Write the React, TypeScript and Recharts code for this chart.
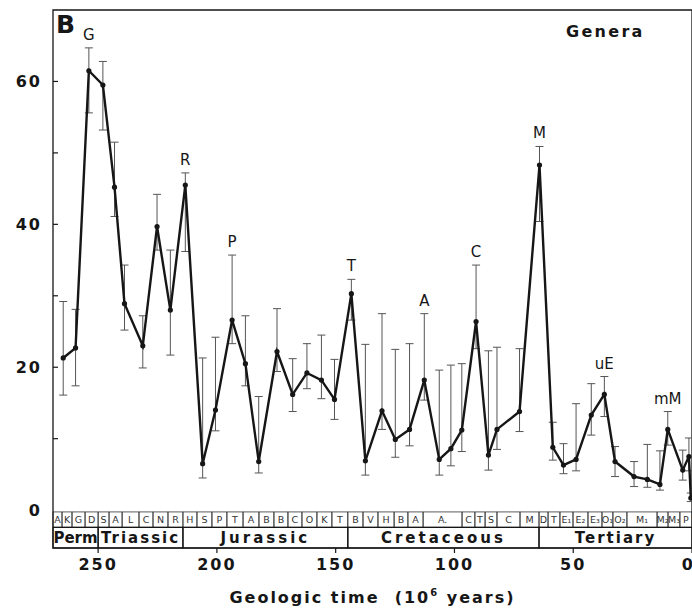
import React from "react"
import {
  ComposedChart,
  Line,
  XAxis,
  YAxis,
  ErrorBar,
  ReferenceArea,
  LabelList
} from "recharts"

// stage midpoints (10^6 years) and genus extinction percentages
const ages = [264.7, 259.5, 253.9, 248.0, 243.1, 238.9, 231.2, 225.2, 219.6, 213.3, 206.0, 200.6, 193.6, 188.0, 182.4, 174.7, 168.1, 162.1, 156.0, 150.5, 143.4, 137.5, 130.5, 124.9, 118.9, 112.7, 106.4, 101.5, 96.9, 90.9, 85.7, 82.1, 72.6, 64.2, 58.6, 54.1, 48.8, 42.4, 36.9, 32.4, 24.4, 18.8, 13.5, 10.2, 3.9, 1.3, 0.5]
const genera = [21.3, 22.7, 61.5, 59.5, 45.2, 28.9, 23.0, 39.7, 28.0, 45.5, 6.5, 14.0, 26.6, 20.5, 6.8, 22.2, 16.2, 19.2, 18.2, 15.5, 30.3, 6.9, 13.9, 9.9, 11.3, 18.2, 7.1, 8.6, 11.2, 26.4, 7.7, 11.3, 13.8, 48.3, 8.8, 6.3, 7.1, 13.3, 16.2, 6.8, 4.7, 4.3, 3.6, 11.3, 5.6, 7.5, 1.7]
const lower = [16.1, 17.4, 55.6, 53.2, 41.1, 25.2, 19.9, 36.4, 21.7, 36.2, 4.5, 11.1, 23.3, 17.4, 5.2, 19.4, 13.8, 17.0, 15.6, 12.7, 26.6, 4.9, 11.3, 7.4, 9.0, 15.4, 4.9, 6.2, 8.2, 22.6, 5.6, 8.5, 11.0, 40.4, 7.0, 5.1, 5.5, 10.5, 13.1, 4.7, 3.3, 3.2, 2.8, 9.1, 4.2, 5.5, 1.2]
const upper = [29.2, 28.1, 64.7, 62.8, 51.5, 34.3, 27.2, 44.2, 36.4, 47.2, 21.3, 24.2, 35.7, 27.2, 15.9, 28.2, 21.2, 23.3, 24.5, 21.1, 32.3, 23.2, 27.5, 22.5, 23.3, 27.5, 19.6, 20.3, 20.5, 34.3, 22.3, 22.8, 22.6, 50.9, 12.3, 9.3, 14.9, 17.7, 18.7, 8.9, 6.8, 9.2, 8.3, 13.8, 8.4, 10.1, 2.4]

const peakIndex = [2, 9, 12, 20, 25, 29, 33, 38, 43]
const peakTags = ["G", "R", "P", "T", "A", "C", "M", "uE", "mM"]

// stage boxes along the bottom
const stageEdges = [269, 265.2, 261.0, 255.5, 250.0, 245.4, 239.9, 232.8, 226.9, 220.6, 214.3, 208.4, 202.1, 195.8, 189.0, 182.3, 176.0, 170.1, 164.2, 157.9, 151.6, 144.9, 138.5, 132.2, 125.4, 119.6, 113.2, 96.8, 91.4, 87.1, 82.1, 72.4, 64.4, 60.6, 55.6, 50.1, 43.8, 37.9, 33.3, 27.4, 14.7, 10.1, 5.1, 0]
const stageNames = ["A", "K", "G", "D", "S", "A", "L", "C", "N", "R", "H", "S", "P", "T", "A", "B", "B", "C", "O", "K", "T", "B", "V", "H", "B", "A", "A.", "C", "T", "S", "C", "M", "D", "T", "E₁", "E₂", "E₃", "O₁", "O₂", "M₁", "M₂", "M₃", "P"]

const periodEdges = [269, 250.0, 214.3, 144.9, 64.4, 0]
const periodNames = ["Perm", "Triassic", "Jurassic", "Cretaceous", "Tertiary"]
const periodSpacing = [0, 2, 3, 3, 2]

const xTicks = [250, 200, 150, 100, 50, 0]
const yTicks = [0, 10, 20, 30, 40, 50, 60]

const FONT = "'DejaVu Sans', sans-serif"
const INK = "#161616"

const rows = ages.map((age, i) => ({
  age,
  genera: genera[i],
  err: [genera[i] - lower[i], upper[i] - genera[i]]
}))

const peakRows = peakIndex.map((i, k) => ({ age: ages[i], top: upper[i], tag: peakTags[k] }))

const LeftTick = (props: any) => {
  const { x, y, payload } = props
  const v = payload.value
  return (
    <g>
      {v !== 0 && <line x1={x} x2={x + 5} y1={y} y2={y} stroke={INK} strokeWidth={1.2} />}
      {v % 20 === 0 && (
        <text x={x - 11} y={y} dy="0.36em" textAnchor="end" fontFamily={FONT} fontWeight="bold"
          fontSize={16} letterSpacing={2} fill={INK}>{v}</text>
      )}
    </g>
  )
}

const RightTick = (props: any) => {
  const { x, y, payload } = props
  if (payload.value === 0) return <g />
  return <line x1={x} x2={x - 5} y1={y} y2={y} stroke={INK} strokeWidth={1.2} />
}

const BottomTick = (props: any) => {
  const { x, y, payload } = props
  // the last label sits on the right edge of the frame
  const atEdge = payload.value === 0
  return (
    <text x={atEdge ? x + 1 : x} y={y} dy="0.71em" textAnchor={atEdge ? "end" : "middle"} fontFamily={FONT}
      fontWeight="bold" fontSize={16} letterSpacing={atEdge ? 0 : 2} fill={INK}>{payload.value}</text>
  )
}

const AxisTitle = (props: any) => {
  const vb = props.viewBox
  return (
    <text x={vb.x + vb.width / 2} y={vb.y + 55} textAnchor="middle" fontFamily={FONT} fontWeight="bold"
      fontSize={16} letterSpacing={2} fill={INK}>
      Geologic time{"\u00a0\u00a0"}(10<tspan dy={-7} fontSize={10}>6</tspan>
      <tspan dy={7}>{" "}years)</tspan>
    </text>
  )
}

const PeakLabel = (props: any) => {
  const { x, y, value } = props
  return (
    <text x={x} y={y - 8} textAnchor="middle" fontFamily={FONT} fontSize={15} fill={INK}>{value}</text>
  )
}

export default function App() {
  return (
    <div style={{ position: "absolute", left: 0, top: 0, width: 692, height: 614, background: "#fff" }}>
      <ComposedChart width={692} height={614} data={rows} margin={{ top: 10, right: 0, bottom: 0, left: 0 }}>
        <XAxis
          type="number"
          dataKey="age"
          domain={[0, 269]}
          reversed
          ticks={xTicks}
          interval={0}
          height={66}
          tickSize={5}
          tickMargin={6}
          axisLine={false}
          tickLine={{ stroke: INK, strokeWidth: 1.2 }}
          tick={<BottomTick />}
          label={{ position: "bottom", content: AxisTitle }}
        />
        <YAxis
          type="number"
          domain={[-5.3, 70]}
          ticks={yTicks}
          interval={0}
          width={53}
          tickSize={0}
          tickMargin={0}
          axisLine={false}
          tickLine={false}
          tick={<LeftTick />}
        />
        <YAxis
          yAxisId="r"
          orientation="right"
          type="number"
          domain={[-5.3, 70]}
          ticks={yTicks}
          interval={0}
          width={0}
          tickSize={0}
          tickMargin={0}
          axisLine={false}
          tickLine={false}
          tick={<RightTick />}
        />

        {stageNames.map((s, i) => (
          <ReferenceArea
            key={`st-${i}`}
            x1={stageEdges[i]}
            x2={stageEdges[i + 1]}
            y1={-0.25}
            y2={-2.4}
            fill="none"
            stroke="#333"
            strokeWidth={0.8}
            label={{ value: s, position: "center", fontSize: 9.5, fontFamily: FONT, fill: "#333" }}
          />
        ))}
        {periodNames.map((p, i) => (
          <ReferenceArea
            key={`pe-${i}`}
            x1={periodEdges[i]}
            x2={periodEdges[i + 1]}
            y1={-2.4}
            y2={-5.3}
            fill="none"
            stroke={INK}
            strokeWidth={1.2}
            label={{ value: p, position: "center", fontSize: 15, fontWeight: "bold", letterSpacing: periodSpacing[i], fontFamily: FONT, fill: INK }}
          />
        ))}
        <ReferenceArea x1={269} x2={0} y1={-5.3} y2={70} fill="none" stroke={INK} strokeWidth={1.3} />

        <Line
          type="linear"
          dataKey="genera"
          stroke={INK}
          strokeWidth={2.4}
          dot={{ r: 2.6, fill: INK, stroke: INK, strokeWidth: 0 }}
          activeDot={false}
          isAnimationActive={false}
        >
          <ErrorBar dataKey="err" direction="y" width={4} stroke="#555" strokeWidth={1} />
        </Line>
        <Line
          data={peakRows}
          dataKey="top"
          stroke="none"
          dot={false}
          activeDot={false}
          isAnimationActive={false}
        >
          <LabelList dataKey="tag" content={PeakLabel} />
        </Line>
      </ComposedChart>
      <svg width={692} height={614} style={{ position: "absolute", left: 0, top: 0, pointerEvents: "none" }}>
        <text x={56} y={33} fontFamily={FONT} fontWeight="bold" fontSize={25} fill={INK}>B</text>
        <text x={566} y={37} fontFamily={FONT} fontWeight="bold" fontSize={16} letterSpacing={2.3} fill={INK}>Genera</text>
      </svg>
    </div>
  )
}
